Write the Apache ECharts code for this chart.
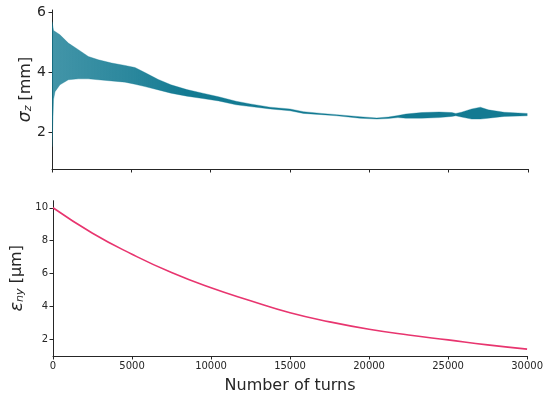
<!DOCTYPE html>
<html>
<head>
<meta charset="utf-8">
<script src="https://cdn.jsdelivr.net/npm/echarts@6/dist/echarts.min.js"></script>
<style>html,body{margin:0;padding:0;background:#fff}#c{width:546px;height:395px}</style>
</head>
<body>
<div id="c"></div>
<script>
// Top panel: sigma_z band envelope (mm)
var szTurns = [0, 100, 190, 500, 1030, 1660, 2290, 2920, 3760, 4600, 5230, 5860, 6700, 7500, 8500, 9500, 10500, 11600, 12500, 13750, 15000, 15850, 17000, 17950, 19400, 20470, 21200, 21800, 22300, 23300, 24400, 25200, 25450, 25800, 26450, 27000, 27500, 28500, 29950];
var szUpper = [5.70, 5.40, 5.37, 5.26, 4.98, 4.76, 4.53, 4.42, 4.31, 4.23, 4.16, 3.99, 3.76, 3.58, 3.42, 3.30, 3.18, 3.03, 2.94, 2.83, 2.77, 2.68, 2.62, 2.58, 2.51, 2.47, 2.50, 2.55, 2.60, 2.65, 2.67, 2.65, 2.62, 2.66, 2.77, 2.83, 2.74, 2.66, 2.62];
var szLower = [1.50, 3.10, 3.35, 3.58, 3.75, 3.78, 3.78, 3.75, 3.71, 3.67, 3.60, 3.52, 3.41, 3.30, 3.20, 3.12, 3.04, 2.91, 2.85, 2.77, 2.71, 2.62, 2.58, 2.54, 2.46, 2.43, 2.45, 2.48, 2.46, 2.46, 2.48, 2.52, 2.54, 2.50, 2.43, 2.43, 2.46, 2.52, 2.54];
// Bottom panel: normalized vertical emittance (um)
var enTurns = [0, 2500, 5000, 7500, 10000, 12500, 15000, 17500, 20000, 22500, 25000, 27500, 30000];
var enValues = [10.0, 8.45, 7.17, 6.05, 5.12, 4.33, 3.60, 3.05, 2.60, 2.25, 1.95, 1.65, 1.39];
var szTicks = [2, 4, 6];
var enTicks = [2, 4, 6, 8, 10];

var teal = '#137a92', pink = '#e8356f', ink = '#262626';
var font = 'DejaVu Sans';

var enData = enTurns.map(function (t, i) { return [t, enValues[i]]; });
var bandData = szTurns.map(function (t, i) { return [t, szLower[i], szUpper[i]]; });

function xAxis(idx, labels) {
  return {
    type: 'value', gridIndex: idx, min: 0, max: 30000, interval: 5000,
    axisLine: { show: true, onZero: false, lineStyle: { color: ink, width: 1 } },
    axisTick: { show: true, length: 3.5, lineStyle: { color: ink } },
    axisLabel: { show: labels, color: ink, fontFamily: font, fontSize: 10, margin: 5,
      formatter: function (v) { return String(v); } },
    splitLine: { show: false },
    name: labels ? 'Number of turns' : '',
    nameLocation: 'middle', nameGap: 22, nameMoveOverlap: false,
    nameTextStyle: { color: ink, fontFamily: font, fontSize: 16 }
  };
}

var chart = echarts.init(document.getElementById('c'), null, { renderer: 'canvas' });
chart.setOption({
  animation: false,
  grid: [
    { left: 52, right: 18, top: 10, height: 159 },
    { left: 52, right: 18, top: 200.7, height: 157.3 }
  ],
  xAxis: [xAxis(0, false), xAxis(1, true)],
  yAxis: [
    {
      type: 'value', gridIndex: 0, min: 0.756, max: 6.09,
      axisLine: { show: true, lineStyle: { color: ink, width: 1 } },
      axisTick: { show: true, length: 3.5, customValues: szTicks, lineStyle: { color: ink } },
      axisLabel: { color: ink, fontFamily: font, fontSize: 14, margin: 6, customValues: szTicks },
      splitLine: { show: false },
      name: '{g|σ}{s|z} [mm]', nameLocation: 'middle', nameRotate: 90, nameGap: 18, nameMoveOverlap: false,
      nameTextStyle: {
        color: ink, fontFamily: font, fontSize: 16,
        rich: {
          g: { fontFamily: font, fontSize: 17, fontStyle: 'italic', color: ink },
          s: { fontFamily: font, fontSize: 11, fontStyle: 'italic', color: ink, verticalAlign: 'bottom', padding: [6, 0, 0, 0] }
        }
      }
    },
    {
      type: 'value', gridIndex: 1, min: 0.97, max: 10.43,
      axisLine: { show: true, lineStyle: { color: ink, width: 1 } },
      axisTick: { show: true, length: 3.5, customValues: enTicks, lineStyle: { color: ink } },
      axisLabel: { color: ink, fontFamily: font, fontSize: 10, margin: 5, customValues: enTicks },
      splitLine: { show: false },
      name: '{g|ε}{s|ny} [μm]', nameLocation: 'middle', nameRotate: 90, nameGap: 27, nameMoveOverlap: false,
      nameTextStyle: {
        color: ink, fontFamily: font, fontSize: 16,
        rich: {
          g: { fontFamily: font, fontSize: 18, fontStyle: 'italic', color: ink },
          s: { fontFamily: font, fontSize: 11, fontStyle: 'italic', color: ink, verticalAlign: 'bottom', padding: [6, 0, 0, 0] }
        }
      }
    }
  ],
  series: [
    {
      type: 'custom', xAxisIndex: 0, yAxisIndex: 0, data: bandData,
      encode: { x: 0, y: [1, 2] }, silent: true, clip: true,
      renderItem: function (params, api) {
        if (params.dataIndex !== 0) return null;
        var top = [], bot = [];
        for (var i = 0; i < szTurns.length; i++) {
          top.push(api.coord([szTurns[i], szUpper[i]]));
          bot.push(api.coord([szTurns[i], szLower[i]]));
        }
        var pts = top.concat(bot.reverse());
        return {
          type: 'polygon',
          shape: { points: pts },
          style: {
            fill: new echarts.graphic.LinearGradient(0, 0, 1, 0, [
              { offset: 0, color: 'rgba(19,122,146,0.8)' },
              { offset: 0.17, color: 'rgba(19,122,146,0.9)' },
              { offset: 0.28, color: 'rgba(19,122,146,1)' },
              { offset: 1, color: 'rgba(19,122,146,1)' }
            ]),
            stroke: 'rgba(19,122,146,0.55)', lineWidth: 0.6
          }
        };
      }
    },
    {
      type: 'line', xAxisIndex: 1, yAxisIndex: 1, data: enData, smooth: true,
      symbol: 'none', lineStyle: { width: 1.6, color: pink }, silent: true
    }
  ]
});
</script>
</body>
</html>
